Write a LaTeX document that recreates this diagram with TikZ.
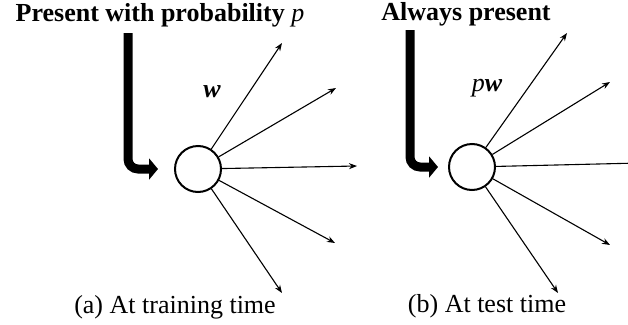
\documentclass[tikz,border=0pt]{standalone}
\usepackage{fontspec}
\setmainfont{Liberation Serif}
\usetikzlibrary{arrows.meta}
\tikzset{
  unit/.style={circle, draw, line width=2pt, minimum size=46pt, inner sep=0pt},
  ray/.style={line width=1.1pt, -{Stealth[length=8pt,width=6pt]}},
  bigarrow/.style={line width=9pt, rounded corners=10pt, -{Triangle[length=9pt,width=21pt]}},
  title/.style={anchor=base, font=\fontsize{26}{30}\selectfont\bfseries, inner sep=0pt},
  caption/.style={anchor=base, font=\fontsize{26}{30}\selectfont, inner sep=0pt},
  wlabel/.style={font=\fontsize{26}{30}\selectfont, inner sep=0pt}
}
\begin{document}
\begin{tikzpicture}[x=1pt,y=-1pt]
\useasboundingbox (0,0) rectangle (628,324);
% left panel
\node[title] (t1) at (160,21) {Present with probability {\mdseries\itshape p}};
\node[unit] (c1) at (198,169) {};
\coordinate (s1) at (128,33);
\draw[bigarrow, shorten >=16pt] (s1) |- (c1.west);
\coordinate (a11) at (282,43);
\coordinate (a12) at (336,88);
\coordinate (a13) at (357,166);
\coordinate (a14) at (335,243);
\coordinate (a15) at (282,293);
\foreach \t in {a11,a12,a13,a14,a15} \draw[ray] (c1) -- (\t);
\node[wlabel] (w1) at (212,92) {\textbf{\textit{w}}};
\node[caption] (cap1) at (175,313) {(a) At training time};
% right panel
\node[title] (t2) at (466,20) {Always present};
\node[unit] (c2) at (472,167) {};
\coordinate (s2) at (410,30);
\draw[bigarrow, shorten >=10pt] (s2) |- (c2.west);
\coordinate (a21) at (567,33);
\coordinate (a22) at (610,82);
\coordinate (a23) at (640,163);
\coordinate (a24) at (610,245);
\coordinate (a25) at (558,293);
\foreach \t in {a21,a22,a23,a24,a25} \draw[ray] (c2) -- (\t);
\node[wlabel] (w2) at (487,88) {\textit{p}\textbf{\textit{w}}};
\node[caption] (cap2) at (487,312) {(b) At test time};
\end{tikzpicture}
\end{document}
